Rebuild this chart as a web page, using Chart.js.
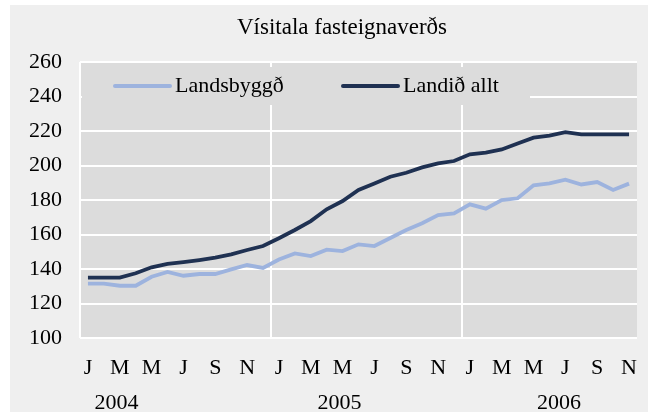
<!DOCTYPE html>
<html>
<head>
<meta charset="utf-8">
<script src="https://cdn.jsdelivr.net/npm/chart.js@4/dist/chart.umd.min.js"></script>
<style>
  html, body { margin: 0; padding: 0; background: #fff; }
  #wrap { width: 655px; height: 416px; }
</style>
</head>
<body>
<div id="wrap"><canvas id="chart" width="655" height="416"></canvas></div>
<script>
const chartTitle = "Vísitala fasteignaverðs";
const monthLetters = ["J", "F", "M", "A", "M", "J", "J", "Á", "S", "O", "N", "D"];
const years = ["2004", "2005", "2006"];

// Jan 2004 .. Nov 2006
const landsbyggd = [
  131.5, 131.5, 130.3, 130.3, 135.5, 138.3, 136.1, 137.1, 137.1, 139.8, 142.3, 140.6,
  145.5, 149.0, 147.5, 151.2, 150.4, 154.3, 153.3, 158.0, 162.6, 166.5, 171.3, 172.3,
  177.5, 175.0, 180.0, 181.0, 188.5, 189.7, 191.8, 189.0, 190.4, 185.8, 189.5
];
const landidAllt = [
  135.0, 135.0, 135.0, 137.5, 141.0, 143.0, 144.0, 145.2, 146.6, 148.5, 151.0, 153.3,
  157.8, 162.6, 167.8, 174.6, 179.4, 185.8, 189.6, 193.5, 195.8, 198.9, 201.2, 202.6,
  206.5, 207.4, 209.3, 212.8, 216.1, 217.3, 219.3, 218.0, 218.0, 218.0, 218.0
];

const labels = [];
years.forEach((y) => monthLetters.forEach((m) => labels.push(m)));
labels.length = landidAllt.length;

const serif = "'Liberation Serif', 'Times New Roman', serif";
const plotBg = "#dcdcdc";

const backdrop = {
  id: "backdrop",
  beforeDraw(chart) {
    const { ctx, chartArea: a } = chart;
    ctx.save();
    ctx.fillStyle = "#fff";
    ctx.fillRect(0, 0, chart.width, chart.height);
    ctx.fillStyle = "#efefef";
    ctx.fillRect(10, 5, 638, 407);
    ctx.fillStyle = plotBg;
    ctx.fillRect(a.left, a.top, a.width, a.height);
    ctx.fillStyle = "#000";
    ctx.font = "23px " + serif;
    ctx.textAlign = "center";
    ctx.textBaseline = "middle";
    ctx.fillText(chartTitle, 342, 28);
    ctx.restore();
  }
};

// legend sits inside the plot, on a patch that hides the grid
const innerLegend = {
  id: "innerLegend",
  beforeDatasetsDraw(chart) {
    const { ctx, chartArea: a } = chart;
    ctx.save();
    ctx.fillStyle = plotBg;
    ctx.fillRect(a.left + 2, a.top + 5, 448, 38);
    ctx.font = "22px " + serif;
    ctx.textBaseline = "middle";
    const y = a.top + 24;
    let x = a.left + 35;
    chart.data.datasets.forEach((ds) => {
      ctx.strokeStyle = ds.borderColor;
      ctx.lineWidth = 4;
      ctx.lineCap = "round";
      ctx.beginPath();
      ctx.moveTo(x, y);
      ctx.lineTo(x + 55, y);
      ctx.stroke();
      ctx.fillStyle = "#000";
      ctx.fillText(ds.label, x + 60, y);
      x += 228;
    });
    ctx.restore();
  }
};

const yearRow = {
  id: "yearRow",
  afterDraw(chart, args, opts) {
    const { ctx } = chart;
    const xs = chart.scales.x;
    ctx.save();
    ctx.font = "22px " + serif;
    ctx.fillStyle = "#000";
    ctx.textAlign = "center";
    ctx.textBaseline = "middle";
    years.forEach((y, i) => ctx.fillText(y, xs.getPixelForValue(opts.at[i]), opts.y));
    ctx.restore();
  }
};

new Chart(document.getElementById("chart"), {
  type: "line",
  data: {
    labels,
    datasets: [
      {
        label: "Landsbyggð",
        data: landsbyggd,
        borderColor: "#9db3de",
        borderWidth: 3.8,
        pointRadius: 0,
        tension: 0
      },
      {
        label: "Landið allt",
        data: landidAllt,
        borderColor: "#1f3152",
        borderWidth: 3.8,
        pointRadius: 0,
        tension: 0
      }
    ]
  },
  plugins: [backdrop, innerLegend, yearRow],
  options: {
    responsive: false,
    animation: false,
    devicePixelRatio: 1,
    layout: { padding: { left: 0, right: 18, top: 62, bottom: 0 } },
    plugins: {
      legend: { display: false },
      tooltip: { enabled: false },
      title: { display: false },
      yearRow: { at: [1.8, 15.8, 29.6], y: 403 }
    },
    scales: {
      x: {
        type: "category",
        offset: true,
        border: { display: false },
        grid: {
          offset: true,
          drawTicks: false,
          lineWidth: 2,
          color: (c) => (c.index % 12 === 0 ? "#fff" : "rgba(0,0,0,0)")
        },
        ticks: {
          autoSkip: false,
          maxRotation: 0,
          padding: 16.8,
          color: "#000",
          font: { family: serif, size: 22 },
          callback: (v, i) => (i % 2 === 0 ? labels[i] : "")
        },
        afterFit: (s) => { s.height = 78; }
      },
      y: {
        min: 100,
        max: 260,
        border: { display: false },
        grid: { color: "#fff", lineWidth: 2, drawTicks: false },
        ticks: {
          stepSize: 20,
          padding: 18,
          color: "#000",
          font: { family: serif, size: 22 }
        },
        afterFit: (s) => { s.width = 80; }
      }
    }
  }
});
</script>
</body>
</html>
